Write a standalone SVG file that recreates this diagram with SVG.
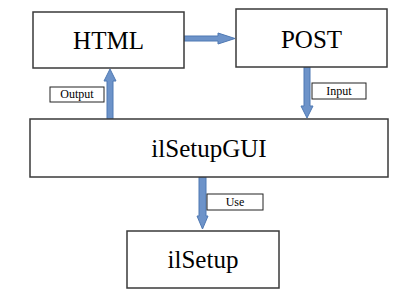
<svg xmlns="http://www.w3.org/2000/svg" width="410" height="297" viewBox="0 0 410 297">
<style>
.box{fill:#fff;stroke:#3a3a3a;stroke-width:1.5}
.lbl{fill:#fff;stroke:#222;stroke-width:1}
.big{font-family:"Liberation Serif",serif;font-size:25px;fill:#000;text-anchor:middle}
.sm{font-family:"Liberation Serif",serif;font-size:12px;fill:#000;text-anchor:middle}
.arr{fill:#6d93c9;stroke:#4f79b3;stroke-width:1}
</style>
<rect width="410" height="297" fill="#fff"/>
<g id="connectors">
<path class="arr" d="M184,36 L218,36 L218,33 L235,38.5 L218,44 L218,41 L184,41 Z"/>
<path class="arr" d="M107,119 L107,81 L104,81 L110,69 L116,81 L113,81 L113,119 Z"/>
<path class="arr" d="M304,67 L304,106 L301,106 L307,118 L313,106 L310,106 L310,67 Z"/>
<path class="arr" d="M199,177 L199,216 L197,216 L202.5,229 L208,216 L206,216 L206,177 Z"/>
<g id="label-output"><rect class="lbl" x="50" y="87" width="54" height="15"/><text class="sm" x="77" y="98">Output</text></g>
<g id="label-input"><rect class="lbl" x="312" y="83" width="54" height="16"/><text class="sm" x="339" y="94.5">Input</text></g>
<g id="label-use"><rect class="lbl" x="207" y="194" width="56" height="16"/><text class="sm" x="235" y="205.5">Use</text></g>
</g>
<g id="html"><rect class="box" x="33" y="12" width="151" height="56"/><text class="big" x="108.5" y="49">HTML</text></g>
<g id="post"><rect class="box" x="236" y="9" width="151" height="58"/><text class="big" x="311.5" y="48">POST</text></g>
<g id="ilsetupgui"><rect class="box" x="30" y="119" width="358" height="58"/><text class="big" x="209" y="157">ilSetupGUI</text></g>
<g id="ilsetup"><rect class="box" x="127" y="231" width="152" height="57"/><text class="big" x="203" y="268">ilSetup</text></g>
</svg>
